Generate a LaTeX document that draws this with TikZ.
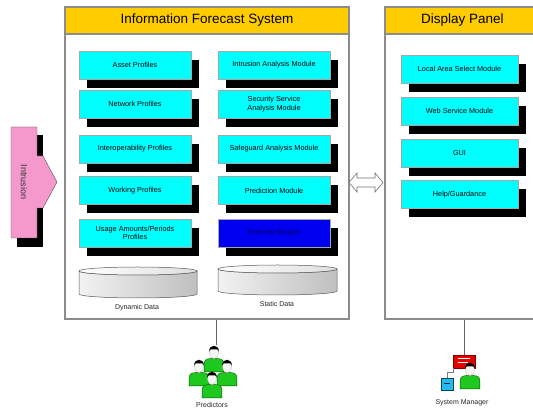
\documentclass[tikz,border=0pt]{standalone}
\usepackage{fontspec}
\setmainfont{Liberation Sans}
\usetikzlibrary{shadows,calc}

\definecolor{hdr}{HTML}{FFCC00}
\definecolor{boxc}{HTML}{00FFFF}
\definecolor{engine}{HTML}{0000F0}
\definecolor{frame}{HTML}{8C8C8C}
\definecolor{pinkc}{HTML}{F598CC}
\definecolor{pgreen}{HTML}{1EC81E}

\tikzset{
  panel/.style={draw=frame, line width=1.2pt, fill=white, inner sep=0pt},
  header/.style={draw=frame, line width=1.2pt, fill=hdr, inner sep=0pt,
    font=\fontsize{13.5}{15}\selectfont},
  module/.style={draw=gray!70, line width=0.5pt, fill=boxc, inner sep=1pt,
    minimum width=112pt, minimum height=28pt, align=center,
    font=\fontsize{7.3}{8.6}\selectfont,
    drop shadow={shadow xshift=8pt, shadow yshift=-9pt, opacity=1, fill=black}},
  wide/.style={minimum width=117pt},
  caption/.style={font=\fontsize{7}{8}\selectfont, text=black!85, inner sep=0pt},
  link/.style={draw=gray!80!black, line width=1pt},
  pics/userfig/.style={code={
    % shoulders and torso
    \fill[pgreen, draw=green!35!black, line width=0.4pt]
      (-9,19) -- (-9,12) .. controls (-9,8.5) and (-7,7) .. (-4,7)
      -- (4,7) .. controls (7,7) and (9,8.5) .. (9,12) -- (9,19) -- cycle;
    % face
    \fill[gray!8, draw=gray!60, line width=0.3pt] (0,1.5) ellipse (4 and 5.5);
    % hair
    \fill[black] (-4.4,0.5) .. controls (-4.6,-6.5) and (4.6,-6.5) .. (4.4,0.5)
      -- (3,-1.5) -- (-3,-1.5) -- cycle;
  }}
}

% flat data drum: centre x, top-face y, bottom y, half width
\newcommand\datadrum[4]{%
  \shade[left color=gray!10, right color=gray!50, draw=gray!70!black, line width=0.5pt]
    (#1-#4,#2) -- (#1-#4,#3) arc (180:0:#4 and 4) -- (#1+#4,#2)
    arc (0:180:#4 and 4) -- cycle;
  \shade[left color=white, right color=gray!25, draw=gray!70!black, line width=0.5pt]
    (#1,#2) ellipse (#4 and 4);
}

\begin{document}
\begin{tikzpicture}[x=1pt, y=-1pt]
\useasboundingbox (0,0) rectangle (533,411);
\clip (0,0) rectangle (533,411);

% ---------------- Information Forecast System ----------------
\node[panel, minimum width=284pt, minimum height=312pt] (ifs) at (207,163) {};
\node[header, minimum width=284pt, minimum height=27pt] (ifsh) at (207,20.5)
  {Information Forecast System};

\node[module] (asset)   at (135,65)   {Asset Profiles};
\node[module] (network) at (135,104)  {Network Profiles};
\node[module] (interop) at (135,149)  {Interoperability Profiles};
\node[module] (working) at (135,190.5){Working Profiles};
\node[module] (usage)   at (135,233)  {Usage Amounts/Periods\\Profiles};

\node[module] (intru)   at (274,65)   {Intrusion Analysis Module};
\node[module] (secsvc)  at (274,104)  {Security Service\\Analysis Module};
\node[module] (safeg)   at (274,149)  {Safeguard Analysis Module};
\node[module] (predm)   at (274,190.5){Prediction Module};
\node[module, fill=engine, text=blue!35!black] (engine) at (274,233) {Forecast Engine};

\datadrum{138}{271}{294}{59}
\datadrum{277.5}{269}{291}{59.5}
\node[caption] (dyn) at (137,308) {Dynamic Data};
\node[caption] (sta) at (277,304) {Static Data};

% ---------------- Display Panel ----------------
\node[panel, minimum width=155pt, minimum height=312pt] (disp) at (462.5,163) {};
\node[header, minimum width=155pt, minimum height=27pt] (disph) at (462.5,20.5)
  {Display Panel};

\node[module, wide] (local) at (459.5,69)    {Local Area Select Module};
\node[module, wide] (web)   at (459.5,111)   {Web Service Module};
\node[module, wide] (gui)   at (459.5,153)   {GUI};
\node[module, wide] (help)  at (459.5,194.5) {Help/Guardance};

% two-way exchange between the panels
\filldraw[fill=white, draw=gray!90!black, line width=0.6pt]
  (349,182.5) -- (357,173) -- (357,178) -- (375,178) -- (375,173) -- (383,182.5)
  -- (375,192) -- (375,187) -- (357,187) -- (357,192) -- cycle;

% ---------------- Intrusion callout ----------------
\fill[black] (17,135) rectangle (43,247);
\filldraw[fill=pinkc, draw=gray!60!black, line width=0.4pt]
  (11,127) -- (37,127) -- (37,156) -- (43,156) -- (57,182) -- (43,208)
  -- (37,208) -- (37,238) -- (11,238) -- cycle;
\node[rotate=-90, font=\fontsize{9}{10}\selectfont, text=black!80, inner sep=0pt]
  (intrusion) at (24,182) {Intrusion};

% ---------------- Predictors ----------------
\coordinate (predtop) at (216,345);
\draw[link] (ifs.south -| predtop) -- (predtop);
\pic[scale=1.1] at (214,351) {userfig};
\pic[scale=1.1] at (199,365) {userfig};
\pic[scale=1.1] at (227,365) {userfig};
\pic[scale=1.1] at (212,377) {userfig};
\node[caption] (pred) at (212,405) {Predictors};

% ---------------- System Manager ----------------
\node[draw=red!50!black, fill=red!90!black, line width=0.4pt,
      minimum width=22pt, minimum height=13pt, inner sep=0pt] (monitor) at (464,361.5) {};
\draw[link] (disp.south -| monitor.north) -- (monitor.north);
\draw[white, line width=0.7pt] (458,358.5) -- (470,358.5) (458,362) -- (468,362);
\node[draw=teal!60!black, fill=cyan!85, line width=0.4pt,
      minimum width=12pt, minimum height=12pt, inner sep=0pt] (term) at (447,384) {};
\draw[teal!40!black, line width=0.5pt] (444,383) -- (450,383);
\draw[gray, line width=0.5pt] (term.north) |- (monitor.west |- 0,372) -- (monitor.south west);
\pic[scale=1.1] at (470,368) {userfig};
\node[caption] (mgr) at (462,403) {System Manager};

\end{tikzpicture}
\end{document}
